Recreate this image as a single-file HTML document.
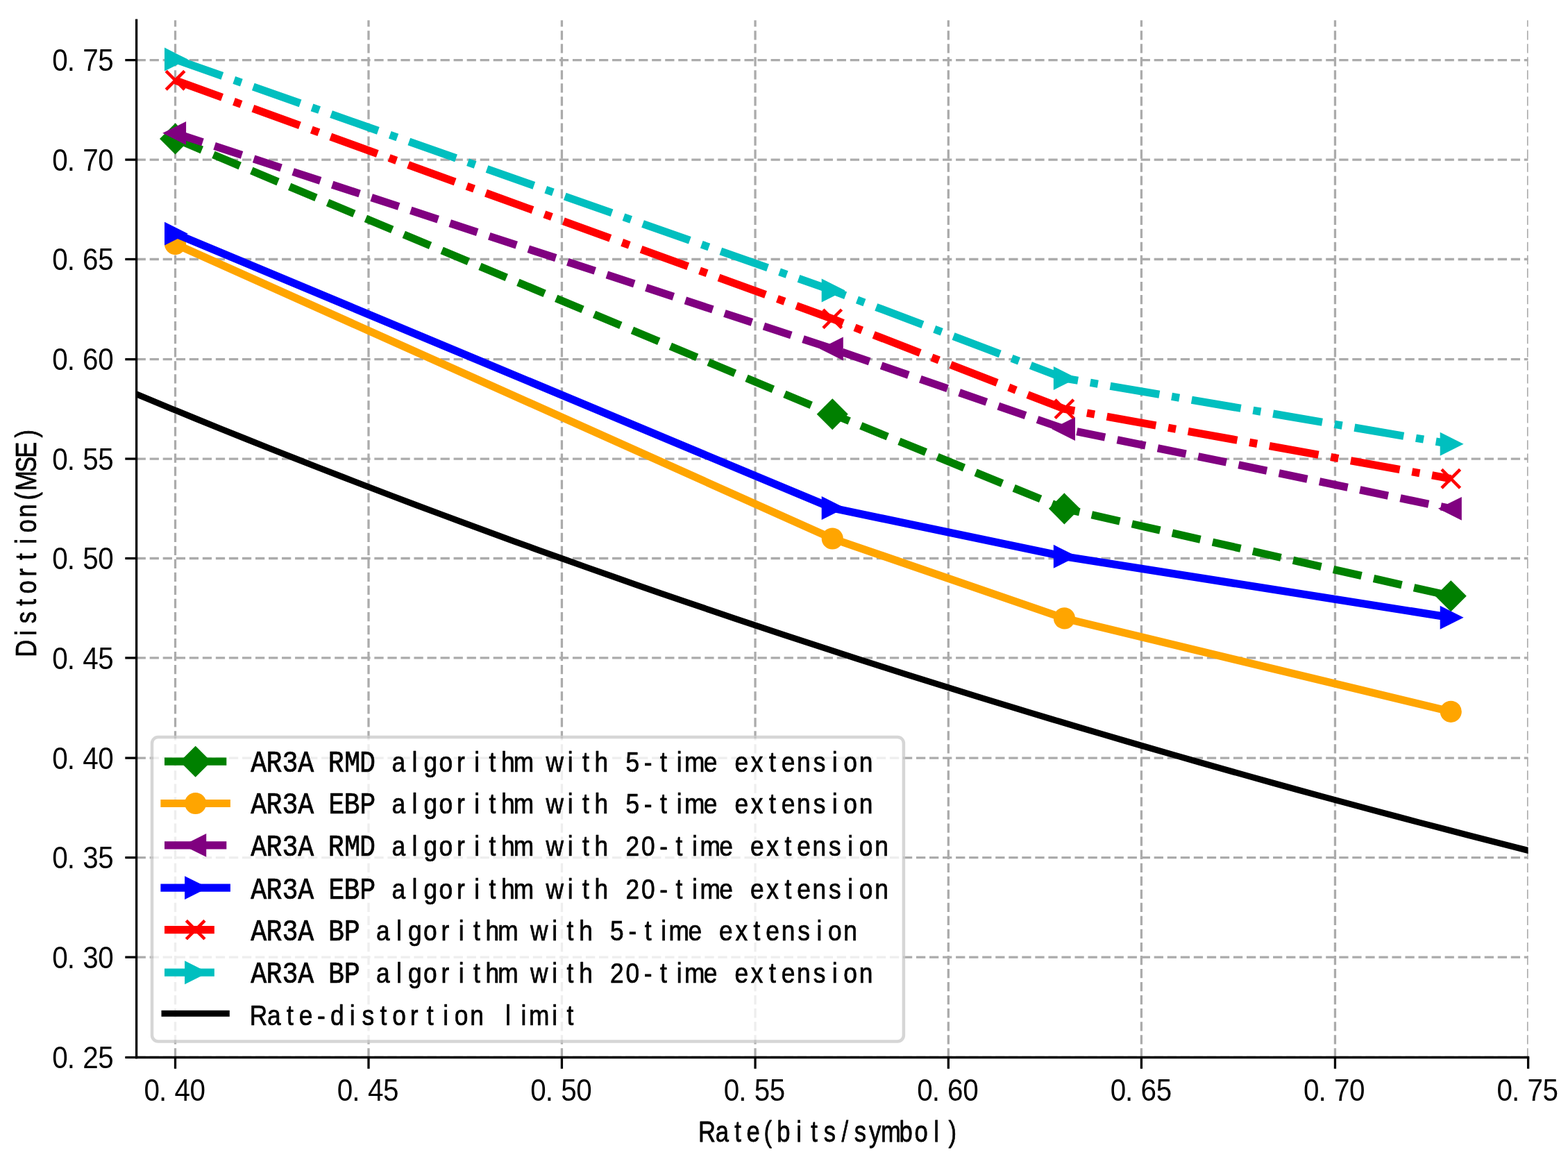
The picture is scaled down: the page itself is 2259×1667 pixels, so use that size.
<!DOCTYPE html>
<html lang="en"><head><meta charset="utf-8"><title>Rate-distortion performance</title>
<style>html,body{margin:0;padding:0;background:#fff}body{width:2259px;height:1667px;overflow:hidden}svg{display:block}text{font-family:"Liberation Sans","DejaVu Sans",sans-serif;font-size:41.5px;fill:#000;stroke:#000;stroke-width:0.75;stroke-linejoin:round;white-space:pre}.t{font-size:44.9px;stroke-width:0}.a{font-size:43.2px}.k{font-family:"Liberation Mono","DejaVu Sans Mono",monospace;font-size:45px}</style></head><body>
<svg width="2259" height="1667" viewBox="0 0 2259 1667">
<rect width="2259" height="1667" fill="#fff"/>
<defs><clipPath id="ax"><rect x="196.6" y="29.2" width="2005" height="1494.3"/></clipPath></defs>
<g clip-path="url(#ax)" fill="none" stroke="#ababab" stroke-width="3.3" stroke-dasharray="13.29 5.75">
<path d="M252.5 1523.5V28.97"/>
<path d="M530.98 1523.5V28.97"/>
<path d="M809.42 1523.5V28.97"/>
<path d="M1088.05 1523.5V28.97"/>
<path d="M1366.31 1523.5V28.97"/>
<path d="M1644.4 1523.5V28.97"/>
<path d="M1923.45 1523.5V28.97"/>
<path d="M2201.6 1523.5V28.97"/>
<path d="M196.6 1523.5H2201.64"/>
<path d="M196.6 1379.1H2201.64"/>
<path d="M196.6 1235.6H2201.64"/>
<path d="M196.6 1092.1H2201.64"/>
<path d="M196.6 947.9H2201.64"/>
<path d="M196.6 804.5H2201.64"/>
<path d="M196.6 661.05H2201.64"/>
<path d="M196.6 517.7H2201.64"/>
<path d="M196.6 373.5H2201.64"/>
<path d="M196.6 230.1H2201.64"/>
<path d="M196.6 86.6H2201.64"/>
</g>
<g clip-path="url(#ax)">
<polyline fill="none" stroke="#008000" stroke-width="11.23" stroke-linejoin="round" stroke-dasharray="41.53 17.96" points="252.54,199.91 1199.24,596.67 1533.38,732.86 2090.26,858.69"/>
<path transform="translate(252.54 199.91)" fill="#008000" stroke="#008000" stroke-width="4.49" stroke-linejoin="miter" d="M0 -19.35 L19.35 0 L0 19.35 L-19.35 0Z"/>
<path transform="translate(1199.24 596.67)" fill="#008000" stroke="#008000" stroke-width="4.49" stroke-linejoin="miter" d="M0 -19.35 L19.35 0 L0 19.35 L-19.35 0Z"/>
<path transform="translate(1533.38 732.86)" fill="#008000" stroke="#008000" stroke-width="4.49" stroke-linejoin="miter" d="M0 -19.35 L19.35 0 L0 19.35 L-19.35 0Z"/>
<path transform="translate(2090.26 858.69)" fill="#008000" stroke="#008000" stroke-width="4.49" stroke-linejoin="miter" d="M0 -19.35 L19.35 0 L0 19.35 L-19.35 0Z"/>
<polyline fill="none" stroke="#ffa500" stroke-width="11.23" stroke-linejoin="round" stroke-linecap="square" points="252.54,351.61 1199.24,775.95 1533.38,890.87 2090.26,1025.33"/>
<circle transform="translate(252.54 351.61)" fill="#ffa500" stroke="#ffa500" stroke-width="4.49" stroke-linejoin="miter" r="13.32"/>
<circle transform="translate(1199.24 775.95)" fill="#ffa500" stroke="#ffa500" stroke-width="4.49" stroke-linejoin="miter" r="13.32"/>
<circle transform="translate(1533.38 890.87)" fill="#ffa500" stroke="#ffa500" stroke-width="4.49" stroke-linejoin="miter" r="13.32"/>
<circle transform="translate(2090.26 1025.33)" fill="#ffa500" stroke="#ffa500" stroke-width="4.49" stroke-linejoin="miter" r="13.32"/>
<polyline fill="none" stroke="#800080" stroke-width="11.23" stroke-linejoin="round" stroke-dasharray="41.53 17.96" points="252.54,191.87 1199.24,502.44 1533.38,617.94 2090.26,732.86"/>
<path transform="translate(252.54 191.87)" fill="#800080" stroke="#800080" stroke-width="4.49" stroke-linejoin="miter" d="M-13.32 0 L13.32 -13.32 L13.32 13.32Z"/>
<path transform="translate(1199.24 502.44)" fill="#800080" stroke="#800080" stroke-width="4.49" stroke-linejoin="miter" d="M-13.32 0 L13.32 -13.32 L13.32 13.32Z"/>
<path transform="translate(1533.38 617.94)" fill="#800080" stroke="#800080" stroke-width="4.49" stroke-linejoin="miter" d="M-13.32 0 L13.32 -13.32 L13.32 13.32Z"/>
<path transform="translate(2090.26 732.86)" fill="#800080" stroke="#800080" stroke-width="4.49" stroke-linejoin="miter" d="M-13.32 0 L13.32 -13.32 L13.32 13.32Z"/>
<polyline fill="none" stroke="#0000ff" stroke-width="11.23" stroke-linejoin="round" stroke-linecap="square" points="252.54,336.67 1199.24,731.99 1533.38,801.81 2090.26,889.72"/>
<path transform="translate(252.54 336.67)" fill="#0000ff" stroke="#0000ff" stroke-width="4.49" stroke-linejoin="miter" d="M13.32 0 L-13.32 13.32 L-13.32 -13.32Z"/>
<path transform="translate(1199.24 731.99)" fill="#0000ff" stroke="#0000ff" stroke-width="4.49" stroke-linejoin="miter" d="M13.32 0 L-13.32 13.32 L-13.32 -13.32Z"/>
<path transform="translate(1533.38 801.81)" fill="#0000ff" stroke="#0000ff" stroke-width="4.49" stroke-linejoin="miter" d="M13.32 0 L-13.32 13.32 L-13.32 -13.32Z"/>
<path transform="translate(2090.26 889.72)" fill="#0000ff" stroke="#0000ff" stroke-width="4.49" stroke-linejoin="miter" d="M13.32 0 L-13.32 13.32 L-13.32 -13.32Z"/>
<polyline fill="none" stroke="#ff0000" stroke-width="11.23" stroke-linejoin="round" stroke-dasharray="71.84 17.96 11.23 17.96" points="252.54,115.73 1199.24,459.35 1533.38,589.21 2090.26,689.76"/>
<path transform="translate(252.54 115.73)" fill="none" stroke="#ff0000" stroke-width="4.49" d="M-13.32 -13.32L13.32 13.32M-13.32 13.32L13.32 -13.32"/>
<path transform="translate(1199.24 459.35)" fill="none" stroke="#ff0000" stroke-width="4.49" d="M-13.32 -13.32L13.32 13.32M-13.32 13.32L13.32 -13.32"/>
<path transform="translate(1533.38 589.21)" fill="none" stroke="#ff0000" stroke-width="4.49" d="M-13.32 -13.32L13.32 13.32M-13.32 13.32L13.32 -13.32"/>
<path transform="translate(2090.26 689.76)" fill="none" stroke="#ff0000" stroke-width="4.49" d="M-13.32 -13.32L13.32 13.32M-13.32 13.32L13.32 -13.32"/>
<polyline fill="none" stroke="#00bfbf" stroke-width="11.23" stroke-linejoin="round" stroke-dasharray="71.84 17.96 11.23 17.96" points="252.54,85.57 1199.24,418.55 1533.38,544.96 2090.26,639.77"/>
<path transform="translate(252.54 85.57)" fill="#00bfbf" stroke="#00bfbf" stroke-width="4.49" stroke-linejoin="miter" d="M13.32 0 L-13.32 13.32 L-13.32 -13.32Z"/>
<path transform="translate(1199.24 418.55)" fill="#00bfbf" stroke="#00bfbf" stroke-width="4.49" stroke-linejoin="miter" d="M13.32 0 L-13.32 13.32 L-13.32 -13.32Z"/>
<path transform="translate(1533.38 544.96)" fill="#00bfbf" stroke="#00bfbf" stroke-width="4.49" stroke-linejoin="miter" d="M13.32 0 L-13.32 13.32 L-13.32 -13.32Z"/>
<path transform="translate(2090.26 639.77)" fill="#00bfbf" stroke="#00bfbf" stroke-width="4.49" stroke-linejoin="miter" d="M13.32 0 L-13.32 13.32 L-13.32 -13.32Z"/>
<polyline fill="none" stroke="#000" stroke-width="8.98" stroke-linejoin="round" points="141.16,544.68 176.43,559.51 211.7,574.21 246.97,588.79 282.24,603.23 317.51,617.55 352.78,631.74 388.05,645.81 423.32,659.76 458.59,673.58 493.86,687.28 529.13,700.87 564.39,714.33 599.66,727.68 634.93,740.91 670.2,754.02 705.47,767.02 740.74,779.91 776.01,792.68 811.28,805.34 846.55,817.89 881.82,830.34 917.09,842.67 952.36,854.89 987.63,867.01 1022.9,879.02 1058.17,890.93 1093.44,902.73 1128.71,914.43 1163.98,926.03 1199.25,937.53 1234.51,948.92 1269.78,960.22 1305.05,971.42 1340.32,982.52 1375.59,993.52 1410.86,1004.43 1446.13,1015.24 1481.4,1025.95 1516.67,1036.58 1551.94,1047.11 1587.21,1057.54 1622.48,1067.89 1657.75,1078.15 1693.02,1088.31 1728.29,1098.39 1763.56,1108.38 1798.83,1118.28 1834.1,1128.1 1869.36,1137.83 1904.63,1147.47 1939.9,1157.03 1975.17,1166.51 2010.44,1175.91 2045.71,1185.22 2080.98,1194.45 2116.25,1203.6 2151.52,1212.67 2186.79,1221.66 2222.06,1230.57 2257.33,1239.41"/>
</g>
<g fill="none" stroke="#000" stroke-width="3.3">
<path d="M196.6 27.5V1525.15"/>
<path d="M194.95 1523.5H2203.24"/>
<path d="M252.5 1523.5v16.3"/>
<path d="M530.98 1523.5v16.3"/>
<path d="M809.42 1523.5v16.3"/>
<path d="M1088.05 1523.5v16.3"/>
<path d="M1366.31 1523.5v16.3"/>
<path d="M1644.4 1523.5v16.3"/>
<path d="M1923.45 1523.5v16.3"/>
<path d="M2201.6 1523.5v16.3"/>
<path d="M196.6 1523.5h-16.3"/>
<path d="M196.6 1379.1h-16.3"/>
<path d="M196.6 1235.6h-16.3"/>
<path d="M196.6 1092.1h-16.3"/>
<path d="M196.6 947.9h-16.3"/>
<path d="M196.6 804.5h-16.3"/>
<path d="M196.6 661.05h-16.3"/>
<path d="M196.6 517.7h-16.3"/>
<path d="M196.6 373.5h-16.3"/>
<path d="M196.6 230.1h-16.3"/>
<path d="M196.6 86.6h-16.3"/>
</g>
<g>
<text class="t" transform="translate(207.64 1585.6) scale(0.900 1)" x="-0.26 23.65 48.77 73.07">0.40</text>
<text class="t" transform="translate(486.08 1585.6) scale(0.900 1)" x="-0.26 23.65 48.77 73.11">0.45</text>
<text class="t" transform="translate(764.52 1585.6) scale(0.900 1)" x="-0.26 23.65 48.67 73.07">0.50</text>
<text class="t" transform="translate(1042.97 1585.6) scale(0.900 1)" x="-0.26 23.65 48.67 73.11">0.55</text>
<text class="t" transform="translate(1321.41 1585.6) scale(0.900 1)" x="-0.26 23.65 48.47 73.07">0.60</text>
<text class="t" transform="translate(1599.85 1585.6) scale(0.900 1)" x="-0.26 23.65 48.47 73.11">0.65</text>
<text class="t" transform="translate(1878.3 1585.6) scale(0.900 1)" x="-0.26 23.65 48.6 73.07">0.70</text>
<text class="t" transform="translate(2156.74 1585.6) scale(0.900 1)" x="-0.26 23.65 48.6 73.11">0.75</text>
<text class="t" transform="translate(75.4 1538.53) scale(0.900 1)" x="-0.26 23.65 48.63 73.11">0.25</text>
<text class="t" transform="translate(75.4 1394.88) scale(0.900 1)" x="-0.26 23.65 48.76 73.07">0.30</text>
<text class="t" transform="translate(75.4 1251.23) scale(0.900 1)" x="-0.26 23.65 48.76 73.11">0.35</text>
<text class="t" transform="translate(75.4 1107.58) scale(0.900 1)" x="-0.26 23.65 48.77 73.07">0.40</text>
<text class="t" transform="translate(75.4 963.93) scale(0.900 1)" x="-0.26 23.65 48.77 73.11">0.45</text>
<text class="t" transform="translate(75.4 820.28) scale(0.900 1)" x="-0.26 23.65 48.67 73.07">0.50</text>
<text class="t" transform="translate(75.4 676.63) scale(0.900 1)" x="-0.26 23.65 48.67 73.11">0.55</text>
<text class="t" transform="translate(75.4 532.98) scale(0.900 1)" x="-0.26 23.65 48.47 73.07">0.60</text>
<text class="t" transform="translate(75.4 389.33) scale(0.900 1)" x="-0.26 23.65 48.47 73.11">0.65</text>
<text class="t" transform="translate(75.4 245.68) scale(0.900 1)" x="-0.26 23.65 48.6 73.07">0.70</text>
<text class="t" transform="translate(75.4 102.03) scale(0.900 1)" x="-0.26 23.65 48.6 73.11">0.75</text>
</g>
<text class="a" transform="translate(1008.2 1644.8) scale(0.800 1)" x="-2.62 28.32 62.58 84.28 115.34 138.75 173.96 200.08 223.13 255.25 278.13 304.89 325.97 359.07 386.74 421.44 447.77">Rate(bits/symbol)</text>
<text class="a" transform="translate(51.6 944.8) rotate(-90) scale(0.800 1)" x="-2.59 36.46 58.13 90.08 111.74 142.98 172.58 201.46 221.74 249.21 280.34 297.19 330.19 356.23 392.77">Distortion(MSE)</text>
<rect x="219" y="1061.9" width="1082.9" height="438.6" rx="8.98" ry="8.98" fill="#fff" stroke="#ccc" stroke-width="4.49" opacity="0.8"/>
<path fill="none" stroke="#008000" stroke-width="11.23" stroke-dasharray="41.53 17.96" d="M237 1097.2h89.3"/>
<path transform="translate(281.65 1097.2)" fill="#008000" stroke="#008000" stroke-width="4.49" stroke-linejoin="miter" d="M0 -19.35 L19.35 0 L0 19.35 L-19.35 0Z"/>
<text transform="translate(362 1112.1) scale(0.850 1)" x="-0.75 25.3 52.25 79.03 105.51 130.36 157.96 183.68 211.01 238.15 272.33 292.26 318.17 348.14 377.86 402.91 423.58 444.29 474.78 499.34 536.12 561.17 581.84 606.66 634.72 665.69 693.05 720.75 734.17 766.87 791.29 819.36 846.85 877.68 898.49 924.79 952.54 984.52 1003.95 1030.3"><tspan class="k">AR3A RMD</tspan> algorithm with 5-time extension</text>
<path fill="none" stroke="#ffa500" stroke-width="11.23" stroke-linecap="square" d="M237 1157.5h89.3"/>
<circle transform="translate(281.65 1157.5)" fill="#ffa500" stroke="#ffa500" stroke-width="4.49" stroke-linejoin="miter" r="13.32"/>
<text transform="translate(362 1172.3) scale(0.850 1)" x="-0.75 25.3 52.25 79.03 105.51 130.96 157.01 183.75 211.01 238.15 272.33 292.26 318.17 348.14 377.86 402.91 423.58 444.29 474.78 499.34 536.12 561.17 581.84 606.66 634.72 665.69 693.05 720.75 734.17 766.87 791.29 819.36 846.85 877.68 898.49 924.79 952.54 984.52 1003.95 1030.3"><tspan class="k">AR3A EBP</tspan> algorithm with 5-time extension</text>
<path fill="none" stroke="#800080" stroke-width="11.23" stroke-dasharray="41.53 17.96" d="M237 1217.9h89.3"/>
<path transform="translate(281.65 1217.9)" fill="#800080" stroke="#800080" stroke-width="4.49" stroke-linejoin="miter" d="M-13.32 0 L13.32 -13.32 L13.32 13.32Z"/>
<text transform="translate(362 1232.8) scale(0.850 1)" x="-0.75 25.3 52.25 79.03 105.51 130.36 157.96 183.68 211.01 238.15 272.33 292.26 318.17 348.14 377.86 402.91 423.58 444.29 474.78 499.34 536.12 561.17 581.84 606.66 634.68 661.06 692.07 719.43 747.13 760.54 793.25 817.67 845.74 873.23 904.06 924.87 951.17 978.91 1010.89 1030.33 1056.68"><tspan class="k">AR3A RMD</tspan> algorithm with 20-time extension</text>
<path fill="none" stroke="#0000ff" stroke-width="11.23" stroke-linecap="square" d="M237 1279.1h89.3"/>
<path transform="translate(281.65 1279.1)" fill="#0000ff" stroke="#0000ff" stroke-width="4.49" stroke-linejoin="miter" d="M13.32 0 L-13.32 13.32 L-13.32 -13.32Z"/>
<text transform="translate(362 1294.5) scale(0.850 1)" x="-0.75 25.3 52.25 79.03 105.51 130.96 157.01 183.75 211.01 238.15 272.33 292.26 318.17 348.14 377.86 402.91 423.58 444.29 474.78 499.34 536.12 561.17 581.84 606.66 634.68 661.06 692.07 719.43 747.13 760.54 793.25 817.67 845.74 873.23 904.06 924.87 951.17 978.91 1010.89 1030.33 1056.68"><tspan class="k">AR3A EBP</tspan> algorithm with 20-time extension</text>
<path fill="none" stroke="#ff0000" stroke-width="11.23" stroke-dasharray="71.84 17.96 11.23 17.96" d="M237 1339.7h89.3"/>
<path transform="translate(281.65 1339.7)" fill="none" stroke="#ff0000" stroke-width="4.49" d="M-13.32 -13.32L13.32 13.32M-13.32 13.32L13.32 -13.32"/>
<text transform="translate(362 1354.7) scale(0.850 1)" x="-0.75 25.3 52.25 79.03 105.51 130.63 157.37 184.64 211.78 245.96 265.88 291.79 321.76 351.48 376.53 397.2 417.92 448.4 472.96 509.74 534.79 555.46 580.28 608.35 639.31 666.67 694.38 707.79 740.5 764.92 792.98 820.47 851.31 872.11 898.42 926.16 958.14 977.58 1003.92"><tspan class="k">AR3A BP</tspan> algorithm with 5-time extension</text>
<path fill="none" stroke="#00bfbf" stroke-width="11.23" stroke-dasharray="71.84 17.96 11.23 17.96" d="M237 1401.2h89.3"/>
<path transform="translate(281.65 1401.2)" fill="#00bfbf" stroke="#00bfbf" stroke-width="4.49" stroke-linejoin="miter" d="M13.32 0 L-13.32 13.32 L-13.32 -13.32Z"/>
<text transform="translate(362 1416) scale(0.850 1)" x="-0.75 25.3 52.25 79.03 105.51 130.63 157.37 184.64 211.78 245.96 265.88 291.79 321.76 351.48 376.53 397.2 417.92 448.4 472.96 509.74 534.79 555.46 580.28 608.31 634.68 665.69 693.05 720.75 734.17 766.87 791.29 819.36 846.85 877.68 898.49 924.79 952.54 984.52 1003.95 1030.3"><tspan class="k">AR3A BP</tspan> algorithm with 20-time extension</text>
<path fill="none" stroke="#000" stroke-width="8.98" stroke-linecap="square" d="M237 1460.3h89.3"/>
<text transform="translate(362 1476.6) scale(0.850 1)" x="-2.54 27.14 60.01 80.82 111.78 134 166.85 187.62 218.27 239.04 269.01 297.4 325.11 344.54 370.89 395.65 430.59 456.99 470.67 509.74 534.79">Rate-distortion limit</text>
</svg></body></html>
